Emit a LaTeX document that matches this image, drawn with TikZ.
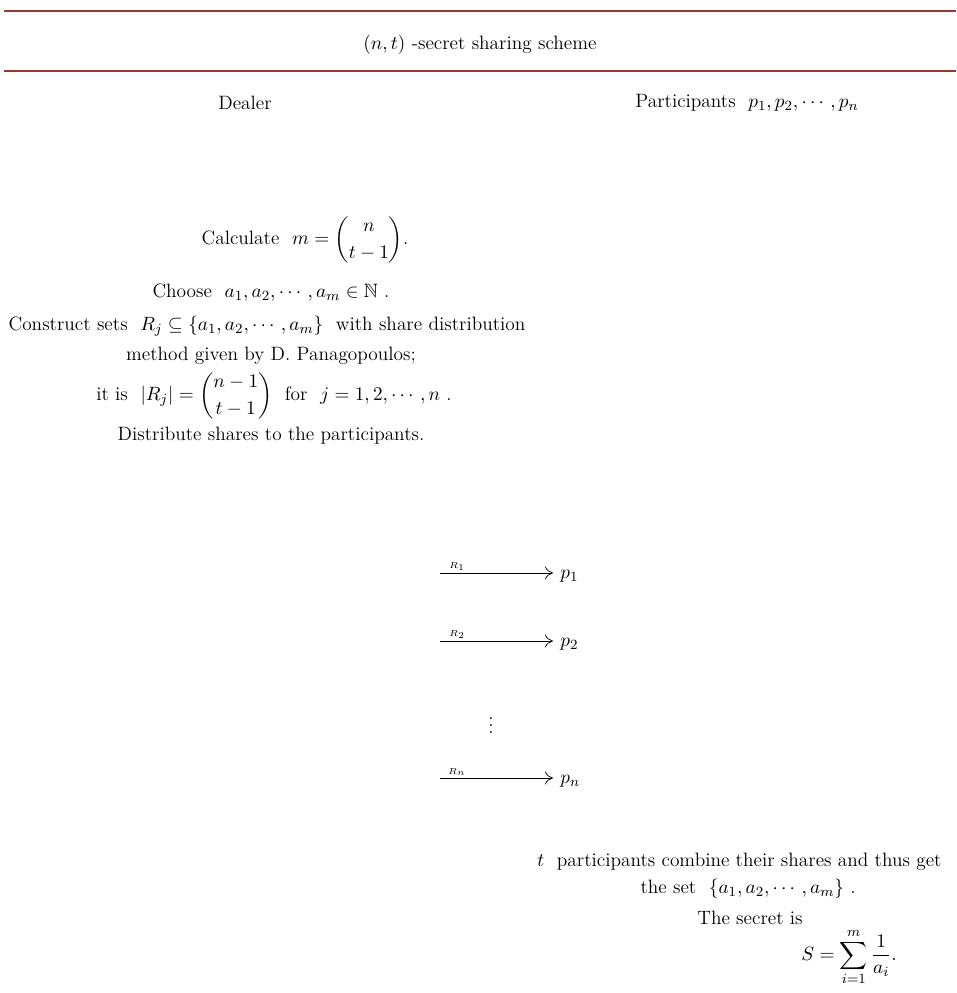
\documentclass[tikz,border=0pt]{standalone}
\usepackage{amsmath,amssymb}
\usetikzlibrary{positioning,arrows.meta}
\definecolor{rulered}{RGB}{155,55,50}

\begin{document}
\begin{tikzpicture}[
    x=0.02cm, y=-0.02cm,
    txt/.style={inner sep=0pt, font=\fontsize{11}{13}\selectfont},
    hrule/.style={draw=rulered},
    share/.style={-{To[length=1.6mm,width=2.6mm]}, thin},
    lbl/.style={font=\tiny, inner sep=1pt, above}
]
\useasboundingbox (0,0) rectangle (956,993);

% Titel
\draw[hrule, line width=1.2pt] (4,11) -- (956,11);
\node[txt] (title) at (480,45) {$(n,t)$ -secret sharing scheme};
\draw[hrule, line width=0.8pt] (4,71) -- (956,71);

% Parteien
\node[txt] (dealer) at (245,103) {Dealer};
\node[txt] (parts) at (747,103) {Participants \ $p_1,p_2,\cdots,p_n$};

% Schritte des Dealers
\node[txt] (calc) at (305,240) {Calculate \ $m=\dbinom{n}{t-1}$.};
\node[txt] (choose) at (271,293) {Choose \ $a_1,a_2,\cdots,a_m\in\mathbb{N}$ .};
\node[txt] (constr) at (267,326) {Construct sets \ $R_j\subseteq\{a_1,a_2,\cdots,a_m\}$ \ with share distribution};
\node[txt] (method) at (271,356) {method given by D. Panagopoulos;};
\node[txt] (itis) at (274,396) {it is \ $\left|R_j\right|=\dbinom{n-1}{t-1}$ \ for \ $j=1,2,\cdots,n$ .};
\node[txt] (distr) at (271,436) {Distribute shares to the participants.};

% Verteilung der Anteile
\node[txt, anchor=west, inner xsep=4pt] (p1) at (553,576) {$p_1$};
\node[txt, anchor=west, inner xsep=4pt] (p2) at (553,644) {$p_2$};
\node[txt] (dots) at (491,720) {$\vdots$};
\node[txt, anchor=west, inner xsep=4pt] (pn) at (553,781) {$p_n$};
\coordinate (s1) at (440,573);
\coordinate (s2) at (440,641);
\coordinate (sn) at (440,778);
\draw[share] (s1) -- (s1 -| p1.west) node[lbl, pos=0.15] {$R_1$};
\draw[share] (s2) -- (s2 -| p2.west) node[lbl, pos=0.15] {$R_2$};
\draw[share] (sn) -- (sn -| pn.west) node[lbl, pos=0.15] {$R_n$};

% Rekonstruktion
\node[txt, anchor=west] (comb) at (537,862) {$t$ \ participants combine their shares and thus get};
\node[txt] (theset) at (748,889) {the set \ $\{a_1,a_2,\cdots,a_m\}$ .};
\node[txt] (secret) at (750,918) {The secret is};
\node[txt] (sum) at (849,957) {$S=\displaystyle\sum_{i=1}^{m}\frac{1}{a_i}.$};
\end{tikzpicture}
\end{document}
